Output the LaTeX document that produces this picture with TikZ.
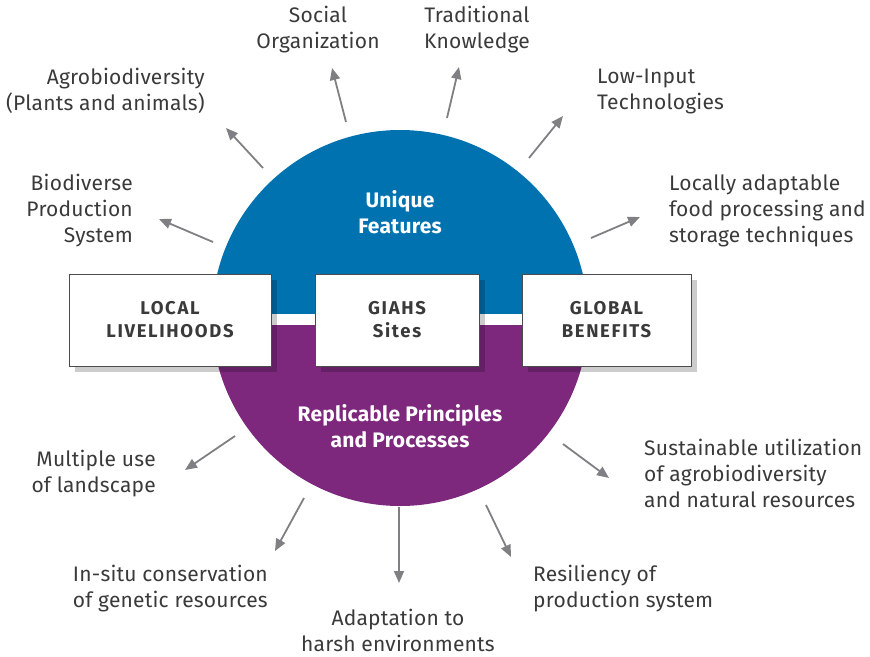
\documentclass[tikz,border=0pt]{standalone}
\usepackage{fontspec}
\setmainfont[LetterSpace=1]{Fira Sans}
\newfontfamily\capsfont[LetterSpace=9]{Fira Sans}
\usetikzlibrary{arrows.meta,shadows}
\definecolor{featblue}{RGB}{0,114,176}
\definecolor{procpurple}{RGB}{125,40,125}
\definecolor{inktext}{RGB}{58,58,58}
\definecolor{arrowgray}{RGB}{128,128,132}
\tikzset{
  lbl/.style={inner sep=0pt, text=inktext, font=\fontsize{21}{26}\selectfont},
  halftitle/.style={inner sep=0pt, text=white, align=center, font=\bfseries\fontsize{21}{26}\selectfont},
  pillar/.style={draw=black!70, line width=0.8pt, fill=white, minimum height=92pt,
    text=inktext, align=center, font=\capsfont\bfseries\fontsize{18.5}{23}\selectfont,
    drop shadow={shadow xshift=6pt, shadow yshift=-6pt, fill=black, opacity=0.2}},
  outarrow/.style={arrowgray, line width=1.8pt, -{Triangle[length=12pt,width=10pt]}}
}

\begin{document}
\begin{tikzpicture}[x=1pt, y=-1pt]
    \useasboundingbox (0,0) rectangle (870,656);
    % the two halves of the disc
    \begin{scope}
      \clip (150,100) rectangle (650,313);
      \fill[featblue] (400,318) circle[radius=188];
    \end{scope}
    \begin{scope}
      \clip (150,325) rectangle (650,540);
      \fill[procpurple] (400,318) circle[radius=188];
    \end{scope}
    \node[halftitle] (uniq) at (400,212) {Unique\\Features};
    \node[halftitle] (repl) at (400,426) {Replicable Principles\\and Processes};

    \node[pillar, minimum width=202pt] (local) at (170,320) {LOCAL\\LIVELIHOODS};
    \node[pillar, minimum width=164pt] (giahs) at (397,320) {GIAHS\\Sites};
    \node[pillar, minimum width=169pt] (global) at (606.5,320) {GLOBAL\\BENEFITS};

    % unique features
    \node[lbl, align=right, anchor=east] (biodiv) at (133,211) {Biodiverse\\Production\\System};
    \node[lbl, align=right, anchor=east] (agro) at (205,91) {Agrobiodiversity\\(Plants and animals)};
    \node[lbl, align=center] (social) at (318,30) {Social\\Organization};
    \node[lbl, align=center] (tradk) at (477,30) {Traditional\\Knowledge};
    \node[lbl, align=left, anchor=west] (lowin) at (597,91) {Low-Input\\Technologies};
    \node[lbl, align=left, anchor=west] (food) at (669,211) {Locally adaptable\\food processing and\\storage techniques};

    % principles and processes
    \node[lbl, align=right, anchor=east] (multi) at (156,474) {Multiple use\\of landscape};
    \node[lbl, align=right, anchor=east] (insitu) at (268,589) {In-situ conservation\\of genetic resources};
    \node[lbl, align=center] (adapt) at (398,630) {Adaptation to\\harsh environments};
    \node[lbl, align=left, anchor=west] (resil) at (533,589) {Resiliency of\\production system};
    \node[lbl, align=left, anchor=west] (sustain) at (644,473) {Sustainable utilization\\of agrobiodiversity\\and natural resources};

    \coordinate (biodiv-s) at (213,242); \coordinate (biodiv-t) at (159,219);
    \coordinate (agro-s) at (263,168);   \coordinate (agro-t) at (226,128);
    \coordinate (social-s) at (346,122); \coordinate (social-t) at (332,68);
    \coordinate (tradk-s) at (447,118);  \coordinate (tradk-t) at (459,67);
    \coordinate (lowin-s) at (529,158);  \coordinate (lowin-t) at (563,116);
    \coordinate (food-s) at (591,238);   \coordinate (food-t) at (640,217);
    \coordinate (multi-s) at (235,436);  \coordinate (multi-t) at (185,470);
    \coordinate (insitu-s) at (304,498); \coordinate (insitu-t) at (275,551);
    \coordinate (adapt-s) at (399,507);  \coordinate (adapt-t) at (399,583);
    \coordinate (resil-s) at (486,505);  \coordinate (resil-t) at (511,557);
    \coordinate (sustain-s) at (563,444); \coordinate (sustain-t) at (609,478);

    \foreach \n in {biodiv,agro,social,tradk,lowin,food,multi,insitu,adapt,resil,sustain}
      \draw[outarrow] (\n-s) -- (\n-t);
  \end{tikzpicture}
\end{document}
